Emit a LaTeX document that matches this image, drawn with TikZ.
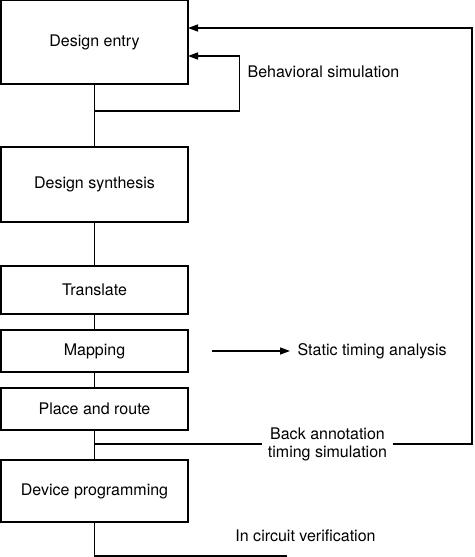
\documentclass[tikz,border=0pt]{standalone}
\usepackage{fontspec}
\setmainfont{TeX Gyre Heros}
\usepackage{tikz}
\usetikzlibrary{calc,positioning,arrows.meta}

\begin{document}
\begin{tikzpicture}[x=1pt,y=1pt,line width=1.3pt,>={Triangle[length=10pt,width=7pt]},
		stage/.style={shape=rectangle,draw,minimum width=187pt,inner sep=0pt,outer sep=0pt,font=\fontsize{16}{18}\selectfont},
		lbl/.style={inner xsep=5pt,inner ysep=0pt,font=\fontsize{16}{18}\selectfont,align=center}]
		\useasboundingbox (0,0) rectangle (474,-557);
		\node(entry) at (94.5,-42) [stage,minimum height=84pt] {Design entry};
		\node(synth) [below=63pt of entry,stage,minimum height=75pt] {Design synthesis};
		\node(translate) [below=44pt of synth,stage,minimum height=48pt] {Translate};
		\node(mapping) [below=16pt of translate,stage,minimum height=42pt] {Mapping};
		\node(place) [below=16pt of mapping,stage,minimum height=42pt] {Place and route};
		\node(device) [below=30pt of place,stage,minimum height=62pt] {Device programming};
		\draw (entry) -- (synth) -- (translate) -- (mapping) -- (place) -- (device);
		% behavioral simulation loop
		\coordinate (bsplit) at ($(entry.south)+(0,-27)$);
		\draw [->] (bsplit) -- ++(145,0) |- ($(entry.east)+(0,-14)$);
		\node(bsim) at ($(entry.east)+(59,-30)$) [lbl,anchor=west,inner xsep=0pt] {Behavioral simulation};
		% static timing analysis
		\coordinate (stastart) at ($(mapping.east)+(24,0)$);
		\node(sta) [right=78pt of stastart,lbl,inner xsep=7pt] {Static timing analysis};
		\draw [->] (stastart) -- (sta);
		% back annotation
		\coordinate (basplit) at ($(place.south)+(0,-14)$);
		\node(back) at ($(basplit)+(233,0)$) [lbl] {Back annotation\\timing simulation};
		\coordinate (bacorner) at ($(entry.east)+(284,14)$);
		\draw (basplit) -- (back);
		\draw [->] (back.east) -| (bacorner) -- ($(entry.east)+(0,14)$);
		% in circuit verification
		\coordinate (icvend) at ($(device.south)+(192,-34)$);
		\draw (device.south) |- (icvend);
		\node(icv) at ($(device.south)+(211,-14)$) [lbl] {In circuit verification};
	\end{tikzpicture}
\end{document}
